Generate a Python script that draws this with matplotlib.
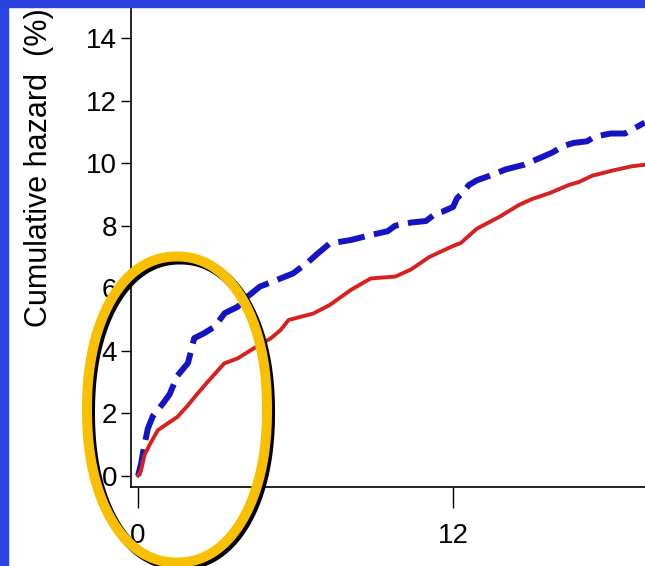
import matplotlib
matplotlib.use('Agg')
import matplotlib.pyplot as plt
import numpy as np
from matplotlib.patches import PathPatch, Rectangle
from matplotlib.path import Path

# months since start
blue_x = [0, 0.12, 0.2, 0.37, 0.56, 0.94, 1.2, 1.5, 1.9, 2.14, 2.5, 2.92, 3.3, 3.79,
          4.17, 4.64, 5.1, 5.9, 6.5, 6.83, 7.3, 8.1, 8.86, 9.5, 9.8, 10.4, 10.97,
          11.35, 11.6, 12.0, 12.15, 12.3, 12.6, 12.9, 13.4, 14.0, 14.7, 15.4, 15.8,
          16.2, 16.6, 17.1, 17.4, 18.0, 18.55, 19.3]
blue_y = [0, 0.4, 0.8, 1.5, 1.9, 2.3, 2.6, 3.2, 3.6, 4.4, 4.55, 4.77, 5.2, 5.4,
          5.73, 6.05, 6.2, 6.47, 6.85, 7.1, 7.43, 7.54, 7.7, 7.82, 8.0, 8.1, 8.15,
          8.4, 8.45, 8.6, 8.88, 9.0, 9.3, 9.45, 9.6, 9.8, 9.95, 10.2, 10.35,
          10.55, 10.65, 10.7, 10.85, 10.95, 10.95, 11.3]

red_x = [0, 0.11, 0.24, 0.43, 0.75, 1.13, 1.5, 1.9, 2.27, 2.65, 3.28, 3.79, 4.4,
         5.05, 5.43, 5.73, 6.68, 7.3, 8.1, 8.86, 9.8, 10.4, 11.1, 12.0, 12.3, 12.9,
         13.8, 14.5, 15.0, 15.7, 16.4, 16.8, 17.3, 18.1, 18.8, 19.3]
red_y = [0, 0.15, 0.65, 0.97, 1.45, 1.67, 1.88, 2.25, 2.63, 3.0, 3.59, 3.75, 4.07,
         4.39, 4.66, 4.98, 5.19, 5.46, 5.94, 6.31, 6.37, 6.6, 7.0, 7.35, 7.45, 7.9,
         8.3, 8.66, 8.85, 9.05, 9.3, 9.4, 9.6, 9.77, 9.9, 9.95]

y_ticks = [0, 2, 4, 6, 8, 10, 12, 14]
x_ticks = [0, 12]

W, H = 645, 566
fig = plt.figure(figsize=(6.45, 5.66), dpi=100)
fig.patch.set_facecolor('white')
ax = fig.add_axes([131/W, 79.5/H, 514/W, 479.5/H])

ax.plot(blue_x, blue_y, color='#1414c4', lw=4.3, ls=(0, (4.5, 1.6)),
        dash_capstyle='butt', solid_joinstyle='miter')
ax.plot(red_x, red_y, color='#d82020', lw=2.8)

ax.set_xlim(-0.27, 19.31)
ax.set_ylim(-0.35, 15.0)
ax.spines['top'].set_visible(False)
ax.spines['right'].set_visible(False)
ax.spines['left'].set_linewidth(1.2)
ax.spines['bottom'].set_linewidth(1.2)

tick_font = {'family': 'Liberation Sans', 'size': 20}
ax.set_yticks(y_ticks)
ax.set_yticklabels([str(v) for v in y_ticks], fontdict=tick_font)
ax.set_xticks(x_ticks)
ax.set_xticklabels([str(v) for v in x_ticks], fontdict=tick_font)
ax.tick_params(axis='y', length=7, width=1, pad=3)
ax.tick_params(axis='x', length=15, width=1, pad=11)

fig.text(39/W, 1 - 327/H, 'Cumulative hazard  (%)', rotation=90,
         ha='center', va='bottom', fontsize=22, family='Liberation Sans')


# hand-drawn looking ring (slightly full oval), pixel coords from top-left
def ring_path(cx, cy, a, b, n=2.15):
    t = np.linspace(0, 2 * np.pi, 240)
    c, s = np.cos(t), np.sin(t)
    px = cx + a * np.sign(c) * np.abs(c) ** (2 / n)
    py = cy + b * np.sign(s) * np.abs(s) ** (2 / n)
    return Path(np.column_stack([px / W, 1 - py / H]), closed=True)


shadow = PathPatch(ring_path(180, 412.5, 90, 153), transform=fig.transFigure,
                   fill=False, edgecolor='black', lw=7.2, zorder=5)
ring = PathPatch(ring_path(177, 409.5, 90, 153), transform=fig.transFigure,
                 fill=False, edgecolor='#f8c000', lw=7.2, zorder=6)
fig.add_artist(shadow)
fig.add_artist(ring)

# slide border
fig.add_artist(Rectangle((0, 0), 8/W, 1, transform=fig.transFigure,
                         color='#2a44e6', zorder=10))
fig.add_artist(Rectangle((0, 1 - 7/H), 1, 7/H, transform=fig.transFigure,
                         color='#2a40dc', zorder=10))

fig.savefig('out.png', dpi=100)
